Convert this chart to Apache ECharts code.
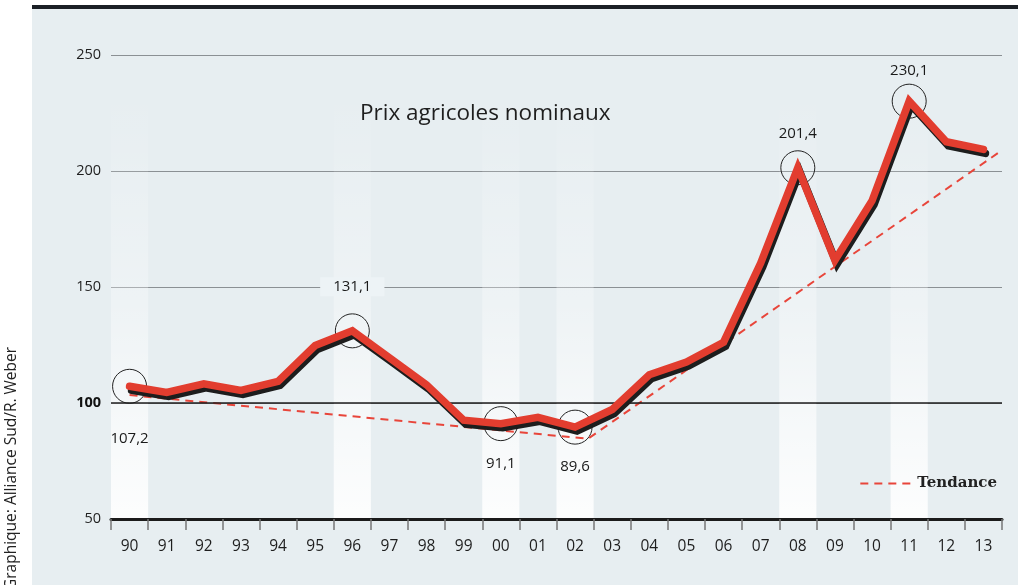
<!DOCTYPE html>
<html>
<head>
<meta charset="utf-8">
<script src="https://cdn.jsdelivr.net/npm/echarts@6/dist/echarts.min.js"></script>
<style>
  html, body { margin: 0; padding: 0; background: #fff; }
  #main { width: 1018px; height: 585px; }
</style>
</head>
<body>
<div id="main"></div>
<script>
// années (axe x)
var annees = ['90', '91', '92', '93', '94', '95', '96', '97', '98', '99', '00', '01',
  '02', '03', '04', '05', '06', '07', '08', '09', '10', '11', '12', '13'];
// prix agricoles nominaux
var prix = [107.2, 104.6, 108.3, 105.4, 109.3, 124.8, 131.1, 119.5, 107.8, 92.6, 91.1, 93.8,
  89.6, 97.2, 112.2, 117.6, 126.2, 160.3, 201.4, 161.5, 187.2, 230.1, 212.6, 209.3];
// tendance : [position sur l'axe, valeur]
var tendance = [[0, 103.4], [12.35, 84.6], [23.45, 208.4]];
// points entourés et leurs étiquettes
var cercles = ['90', '96', '00', '02', '08', '11'];
var etiquettes = ['107,2', '131,1', '91,1', '89,6', '201,4', '230,1'];
var decalages = [[0, 52], [0, -44], [0, 40], [0, 40], [0, -34], [0, -30]];
// bandes claires verticales
var bandes = ['90', '96', '00', '02', '08', '11'];

var myChart = echarts.init(document.getElementById('main'));

var cercleData = cercles.map(function (a, i) {
  var idx = annees.indexOf(a);
  return {
    value: [idx, prix[idx]],
    label: {
      show: true,
      formatter: etiquettes[i],
      position: 'inside',
      offset: decalages[i],
      color: '#1a1a1a',
      fontSize: 15,
      fontFamily: 'Open Sans',
      backgroundColor: i === 1 ? '#edf3f6' : 'transparent',
      padding: i === 1 ? [2, 13] : 0
    }
  };
});

var bandesData = bandes.map(function (a) {
  var idx = annees.indexOf(a);
  return [{ xAxis: idx - 0.5, yAxis: 50 }, { xAxis: idx + 0.5, yAxis: 235 }];
});

var option = {
  backgroundColor: '#fff',
  animation: false,
  graphic: [
    { type: 'rect', z: -10, shape: { x: 32, y: 9, width: 986, height: 576 }, style: { fill: '#e7eef1' } },
    { type: 'rect', z: -10, shape: { x: 32, y: 5, width: 986, height: 4 }, style: { fill: '#1b2026' } },
    {
      type: 'text', x: 12, y: 590, rotation: Math.PI / 2,
      style: {
        text: 'Graphique: Alliance Sud/R. Weber', fill: '#222',
        font: '15.5px "Open Sans"', textAlign: 'left', textVerticalAlign: 'middle'
      }
    }
  ],
  title: {
    text: 'Prix agricoles nominaux',
    left: 355, top: 97,
    textStyle: { fontSize: 22.5, fontWeight: 'normal', color: '#1e1e1e', fontFamily: 'Open Sans' }
  },
  legend: {
    data: ['Tendance'],
    right: 16, top: 471,
    itemWidth: 52, itemHeight: 12, itemGap: 8,
    itemStyle: { opacity: 0 },
    textStyle: { fontSize: 15, fontWeight: 'bold', color: '#222', fontFamily: 'DejaVu Serif' }
  },
  grid: { left: 111, right: 16, top: 55, bottom: 66 },
  xAxis: [
    {
      type: 'category',
      data: annees,
      boundaryGap: true,
      axisLine: { lineStyle: { color: '#1b1b1b', width: 3 } },
      axisTick: { show: true, length: 11, lineStyle: { color: '#777', width: 1.5 } },
      axisLabel: { margin: 20, fontSize: 15.5, color: '#1e1e1e', fontFamily: 'Open Sans' },
      splitLine: { show: false }
    },
    {
      type: 'value', min: -0.5, max: 23.5, show: false
    }
  ],
  yAxis: {
    type: 'value',
    min: 50, max: 250, interval: 50,
    axisLine: { show: false },
    axisTick: { show: false },
    axisLabel: {
      margin: 10, fontSize: 14.5, color: '#1e1e1e', fontFamily: 'Open Sans',
      formatter: function (v) { return v === 100 ? '{b|100}' : v; },
      rich: { b: { fontWeight: 'bold', fontSize: 14.5, color: '#111', fontFamily: 'Open Sans' } }
    },
    splitLine: { lineStyle: { color: '#8b9094', width: 1.2 } }
  },
  series: [
    {
      name: 'Tendance',
      type: 'line',
      xAxisIndex: 1,
      data: tendance,
      symbol: 'none',
      z: 3,
      itemStyle: { color: '#e8453a' },
      lineStyle: { color: '#e8453a', width: 2, type: [8, 6] },
      markArea: {
        silent: true,
        z: 0,
        itemStyle: {
          color: new echarts.graphic.LinearGradient(0, 0, 0, 1, [
            { offset: 0, color: 'rgba(255,255,255,0)' },
            { offset: 0.5, color: 'rgba(255,255,255,0.3)' },
            { offset: 1, color: 'rgba(255,255,255,0.9)' }
          ])
        },
        data: bandesData
      },
      markLine: {
        silent: true,
        symbol: 'none',
        label: { show: false },
        lineStyle: { color: '#1e1e1e', width: 1.6, type: 'solid' },
        data: [{ yAxis: 100 }]
      }
    },
    {
      name: 'Cercles',
      type: 'scatter',
      data: cercleData,
      symbol: 'circle',
      symbolSize: 34,
      z: 2,
      itemStyle: { color: 'rgba(0,0,0,0)', borderColor: '#222', borderWidth: 1, opacity: 1 }
    },
    {
      name: 'Prix',
      type: 'line',
      data: prix,
      symbol: 'none',
      z: 5,
      lineStyle: {
        color: '#e23d2f', width: 7.5, cap: 'round', join: 'miter',
        shadowColor: '#1d1d1d', shadowBlur: 0, shadowOffsetX: 2, shadowOffsetY: 4
      }
    }
  ]
};

myChart.setOption(option);
</script>
</body>
</html>
